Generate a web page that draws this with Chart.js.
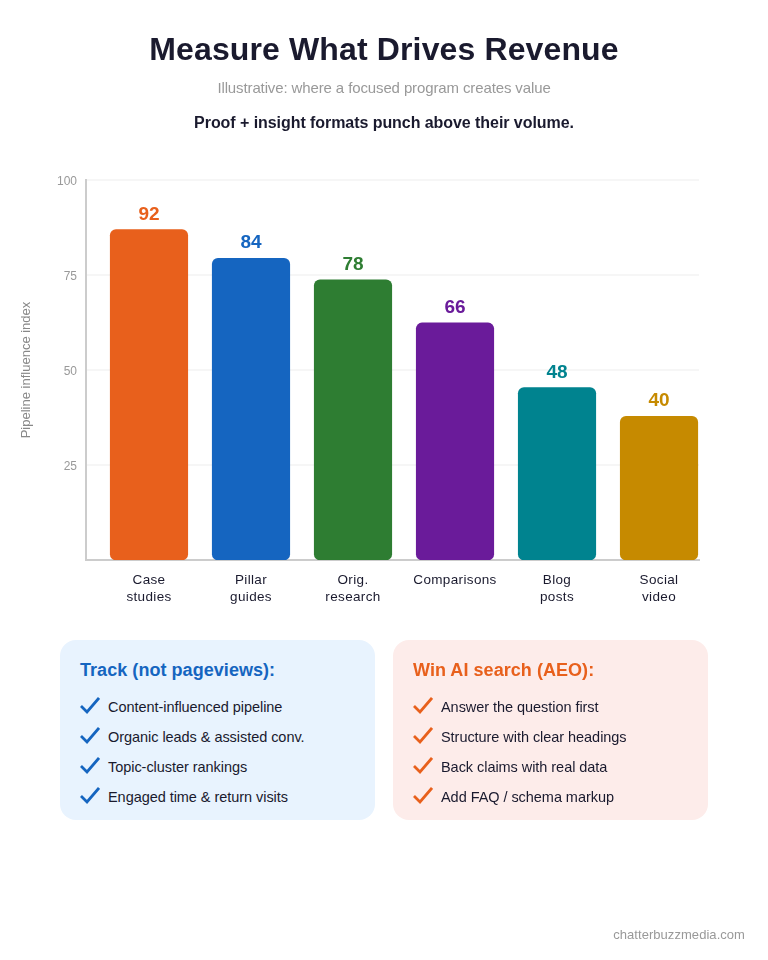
<!DOCTYPE html>
<html>
<head>
<meta charset="utf-8">
<title>Measure What Drives Revenue</title>
<script src="https://cdn.jsdelivr.net/npm/chart.js@4"></script>
<style>
    html, body { margin: 0; padding: 0; background: #fff; }
    body { position: relative; width: 768px; height: 960px; overflow: hidden; font-family: "Liberation Sans", Arial, sans-serif; }
    #chart { position: absolute; left: 0; top: 0; }
    .line { position: absolute; left: 0; width: 768px; text-align: center; white-space: nowrap; }
    #title { top: 29px; font-size: 32px; line-height: 40px; font-weight: bold; color: #1a1a2e; letter-spacing: 0.13px; }
    #subtitle { top: 79px; font-size: 15px; line-height: 18px; color: #999; letter-spacing: -0.12px; }
    #tagline { top: 113px; font-size: 16px; line-height: 20px; font-weight: bold; color: #1a1a2e; letter-spacing: -0.06px; }
    .card { position: absolute; top: 640px; width: 315px; height: 180px; border-radius: 16px; }
    .card h3 { position: absolute; left: 20px; top: 20px; margin: 0; font-size: 18px; line-height: 21px; font-weight: bold; white-space: nowrap; letter-spacing: 0.05px; }
    .item { position: absolute; left: 48px; font-size: 14.5px; line-height: 18px; color: #1a1a2e; white-space: nowrap; letter-spacing: -0.05px; }
    .card svg { position: absolute; left: 20px; width: 20px; height: 18px; }
    #footer { position: absolute; right: 23px; top: 927px; font-size: 13px; line-height: 16px; color: #999; letter-spacing: 0.05px; }
</style>
</head>
<body>
<canvas id="chart" width="768" height="960" style="width:768px;height:960px"></canvas>
<div class="line" id="title">Measure What Drives Revenue</div>
<div class="line" id="subtitle">Illustrative: where a focused program creates value</div>
<div class="line" id="tagline">Proof + insight formats punch above their volume.</div>
<div id="cards"></div>
<div id="footer">chatterbuzzmedia.com</div>

<script>
var categories = [['Case', 'studies'], ['Pillar', 'guides'], ['Orig.', 'research'], ['Comparisons'], ['Blog', 'posts'], ['Social', 'video']];
var values = [92, 84, 78, 66, 48, 40];
var barColors = ['#e8601c', '#1565c0', '#2e7d32', '#6a1b9a', '#00838f', '#c68a00'];
var yTicks = [25, 50, 75, 100];

var trackItems = ['Content-influenced pipeline', 'Organic leads & assisted conv.', 'Topic-cluster rankings', 'Engaged time & return visits'];
var aeoItems = ['Answer the question first', 'Structure with clear headings', 'Back claims with real data', 'Add FAQ / schema markup'];

function addCard(left, bg, color, heading, items) {
    var card = document.createElement('div');
    card.className = 'card';
    card.style.left = left + 'px';
    card.style.background = bg;
    var h = document.createElement('h3');
    h.textContent = heading;
    h.style.color = color;
    card.appendChild(h);
    items.forEach(function (text, i) {
        var top = 57 + i * 30;
        var check = document.createElementNS('http://www.w3.org/2000/svg', 'svg');
        check.setAttribute('viewBox', '0 0 20 18');
        check.style.top = top + 'px';
        var path = document.createElementNS('http://www.w3.org/2000/svg', 'path');
        path.setAttribute('d', 'M1 9 L7 15 L19 1');
        path.setAttribute('fill', 'none');
        path.setAttribute('stroke', color);
        path.setAttribute('stroke-width', '2.8');
        check.appendChild(path);
        card.appendChild(check);
        var row = document.createElement('div');
        row.className = 'item';
        row.style.top = (top + 1) + 'px';
        row.textContent = text;
        card.appendChild(row);
    });
    document.getElementById('cards').appendChild(card);
}
addCard(60, '#e8f3fe', '#1565c0', 'Track (not pageviews):', trackItems);
addCard(393, '#fdecea', '#e8601c', 'Win AI search (AEO):', aeoItems);

// value labels, wrapped category labels and y tick labels, drawn at the scale positions
var barLabels = {
    id: 'barLabels',
    afterDatasetsDraw: function (chart) {
        var ctx = chart.ctx;
        var bars = chart.getDatasetMeta(0).data;
        ctx.save();
        ctx.textAlign = 'center';
        ctx.textBaseline = 'alphabetic';
        bars.forEach(function (bar, i) {
            ctx.letterSpacing = '0px';
            ctx.font = 'bold 19px "Liberation Sans"';
            ctx.fillStyle = barColors[i];
            ctx.fillText(values[i], bar.x, bar.y - 10);
            ctx.letterSpacing = '0.35px';
            ctx.font = '13.5px "Liberation Sans"';
            ctx.fillStyle = '#1a1a2e';
            categories[i].forEach(function (part, j) {
                ctx.fillText(part, bar.x, 584 + j * 17);
            });
        });
        ctx.letterSpacing = '0px';
        ctx.textAlign = 'right';
        ctx.font = '12px "Liberation Sans"';
        ctx.fillStyle = '#999999';
        yTicks.forEach(function (t) {
            ctx.fillText(t, chart.chartArea.left - 9, chart.scales.y.getPixelForValue(t) + 5);
        });
        ctx.restore();
    }
};

new Chart(document.getElementById('chart'), {
    type: 'bar',
    data: {
        datasets: [{
            data: values.map(function (v, i) { return { x: i, y: v }; }),
            yAxisID: 'yBars',
            backgroundColor: barColors,
            barThickness: 77.5,
            borderRadius: 6,
            borderSkipped: false
        }]
    },
    options: {
        responsive: false,
        animation: false,
        layout: { autoPadding: false, padding: { left: 0, right: 69, top: 180, bottom: 400 } },
        plugins: { legend: { display: false }, tooltip: { enabled: false } },
        scales: {
            x: {
                type: 'linear',
                offset: false,
                min: -0.6176,
                max: 5.392,
                afterBuildTicks: function (scale) {
                    scale.ticks = values.map(function (v, i) { return { value: i }; });
                },
                afterFit: function (scale) { scale.height = 0; },
                ticks: { display: false },
                grid: { display: false },
                border: { color: '#cccccc', width: 2 }
            },
            y: {
                position: 'left',
                min: 0,
                max: 100,
                afterBuildTicks: function (scale) {
                    scale.ticks = yTicks.map(function (v) { return { value: v }; });
                },
                afterFit: function (scale) { scale.width = 86; },
                ticks: { display: false },
                grid: { color: '#f6f6f6', lineWidth: 2, drawTicks: false },
                border: { color: '#cccccc', width: 2 },
                title: {
                    display: true,
                    text: 'Pipeline influence index',
                    color: '#888888',
                    font: { family: 'Liberation Sans', size: 13 },
                    padding: { top: 19, bottom: 0 }
                }
            },
            // the bars stand a little shorter than the printed axis suggests, as in the reference
            yBars: { display: false, min: 0, max: 105.8 }
        }
    },
    plugins: [barLabels]
});
</script>
</body>
</html>
